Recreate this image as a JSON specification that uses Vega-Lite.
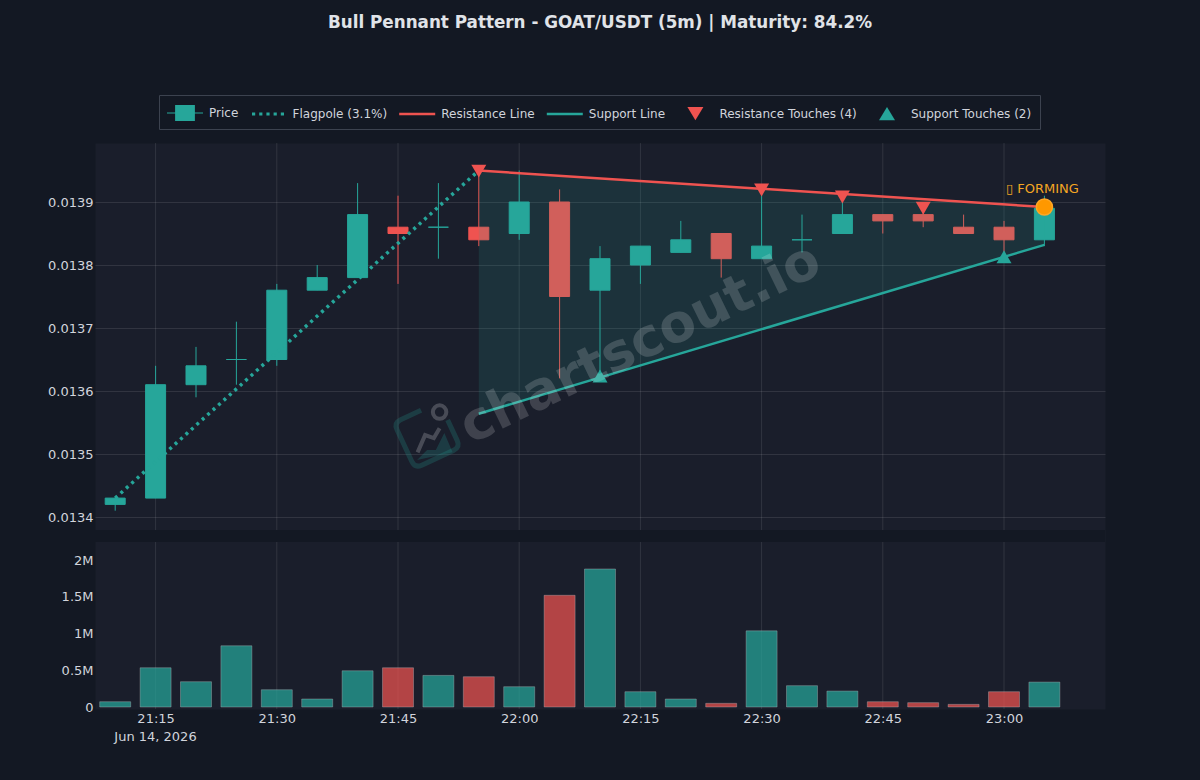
{
  "$schema": "https://vega.github.io/schema/vega-lite/v6.json",
  "background": "#131823",
  "autosize": {"type": "fit", "contains": "padding"},
  "width": 1200,
  "height": 780,
  "padding": {"left": 47, "top": 14, "right": 95, "bottom": 37},
  "title": {
    "text": "Bull Pennant Pattern - GOAT/USDT (5m) | Maturity: 84.2%",
    "font": "DejaVu Sans",
    "fontSize": 16.8,
    "fontWeight": "bold",
    "color": "#e0e3e8",
    "anchor": "middle",
    "offset": 111
  },
  "datasets": {
    "candles": [
      {"time": "2026-06-14T21:10:00", "open": 0.01342, "high": 0.01343, "low": 0.01341, "close": 0.01343, "volume": 72000, "dir": "up"},
      {"time": "2026-06-14T21:15:00", "open": 0.01343, "high": 0.01364, "low": 0.01343, "close": 0.01361, "volume": 534000, "dir": "up"},
      {"time": "2026-06-14T21:20:00", "open": 0.01361, "high": 0.01367, "low": 0.01359, "close": 0.01364, "volume": 344000, "dir": "up"},
      {"time": "2026-06-14T21:25:00", "open": 0.01365, "high": 0.01371, "low": 0.01361, "close": 0.01365, "volume": 833000, "dir": "up"},
      {"time": "2026-06-14T21:30:00", "open": 0.01365, "high": 0.01377, "low": 0.01364, "close": 0.01376, "volume": 235000, "dir": "up"},
      {"time": "2026-06-14T21:35:00", "open": 0.01376, "high": 0.0138, "low": 0.01376, "close": 0.01378, "volume": 109000, "dir": "up"},
      {"time": "2026-06-14T21:40:00", "open": 0.01378, "high": 0.01393, "low": 0.01378, "close": 0.01388, "volume": 493000, "dir": "up"},
      {"time": "2026-06-14T21:45:00", "open": 0.01386, "high": 0.01391, "low": 0.01377, "close": 0.01385, "volume": 534000, "dir": "down"},
      {"time": "2026-06-14T21:50:00", "open": 0.01386, "high": 0.01393, "low": 0.01381, "close": 0.01386, "volume": 430000, "dir": "up"},
      {"time": "2026-06-14T21:55:00", "open": 0.01386, "high": 0.01395, "low": 0.01383, "close": 0.01384, "volume": 412000, "dir": "down"},
      {"time": "2026-06-14T22:00:00", "open": 0.01385, "high": 0.01395, "low": 0.01384, "close": 0.0139, "volume": 276000, "dir": "up"},
      {"time": "2026-06-14T22:05:00", "open": 0.0139, "high": 0.01392, "low": 0.01362, "close": 0.01375, "volume": 1520000, "dir": "down"},
      {"time": "2026-06-14T22:10:00", "open": 0.01376, "high": 0.01383, "low": 0.01362, "close": 0.01381, "volume": 1878000, "dir": "up"},
      {"time": "2026-06-14T22:15:00", "open": 0.0138, "high": 0.01383, "low": 0.01377, "close": 0.01383, "volume": 208000, "dir": "up"},
      {"time": "2026-06-14T22:20:00", "open": 0.01382, "high": 0.01387, "low": 0.01382, "close": 0.01384, "volume": 109000, "dir": "up"},
      {"time": "2026-06-14T22:25:00", "open": 0.01385, "high": 0.01385, "low": 0.01378, "close": 0.01381, "volume": 50000, "dir": "down"},
      {"time": "2026-06-14T22:30:00", "open": 0.01381, "high": 0.01392, "low": 0.01381, "close": 0.01383, "volume": 1036000, "dir": "up"},
      {"time": "2026-06-14T22:35:00", "open": 0.01384, "high": 0.01388, "low": 0.01382, "close": 0.01384, "volume": 290000, "dir": "up"},
      {"time": "2026-06-14T22:40:00", "open": 0.01385, "high": 0.01391, "low": 0.01385, "close": 0.01388, "volume": 217000, "dir": "up"},
      {"time": "2026-06-14T22:45:00", "open": 0.01388, "high": 0.01388, "low": 0.01385, "close": 0.01387, "volume": 72000, "dir": "down"},
      {"time": "2026-06-14T22:50:00", "open": 0.01388, "high": 0.0139, "low": 0.01386, "close": 0.01387, "volume": 59000, "dir": "down"},
      {"time": "2026-06-14T22:55:00", "open": 0.01386, "high": 0.01388, "low": 0.01385, "close": 0.01385, "volume": 36000, "dir": "down"},
      {"time": "2026-06-14T23:00:00", "open": 0.01386, "high": 0.01387, "low": 0.01382, "close": 0.01384, "volume": 208000, "dir": "down"},
      {"time": "2026-06-14T23:05:00", "open": 0.01384, "high": 0.01391, "low": 0.01383, "close": 0.01389, "volume": 339000, "dir": "up"}
    ],
    "gridTimes": [
      {"time": "2026-06-14T21:15:00"},
      {"time": "2026-06-14T21:30:00"},
      {"time": "2026-06-14T21:45:00"},
      {"time": "2026-06-14T22:00:00"},
      {"time": "2026-06-14T22:15:00"},
      {"time": "2026-06-14T22:30:00"},
      {"time": "2026-06-14T22:45:00"},
      {"time": "2026-06-14T23:00:00"}
    ],
    "flagpole": [
      {"time": "2026-06-14T21:10:00", "price": 0.01343},
      {"time": "2026-06-14T21:55:00", "price": 0.01395}
    ],
    "pennant": [
      {"time": "2026-06-14T21:55:00", "resistance": 0.01395, "support": 0.013564},
      {"time": "2026-06-14T23:05:00", "resistance": 0.013892, "support": 0.013832}
    ],
    "resistanceTouches": [
      {"time": "2026-06-14T21:55:00", "price": 0.013949},
      {"time": "2026-06-14T22:30:00", "price": 0.013919},
      {"time": "2026-06-14T22:40:00", "price": 0.013908},
      {"time": "2026-06-14T22:50:00", "price": 0.01389}
    ],
    "supportTouches": [
      {"time": "2026-06-14T22:10:00", "price": 0.013624},
      {"time": "2026-06-14T23:00:00", "price": 0.013813}
    ],
    "breakout": [
      {"time": "2026-06-14T23:05:00", "price": 0.013892}
    ],
    "forming": [
      {"time": "2026-06-14T23:05:00", "price": 0.01392, "label": "▯ FORMING"}
    ],
    "watermark": [
      {"time": "2026-06-14T22:15:00", "price": 0.013675, "label": "chartscout.io"}
    ],
    "logo": [
      {"time": "2026-06-14T21:48:36", "price": 0.01353}
    ],
    "legendItems": [
      {"series": "Price"},
      {"series": "Flagpole (3.1%)"},
      {"series": "Resistance Line"},
      {"series": "Support Line"},
      {"series": "Resistance Touches (4)"},
      {"series": "Support Touches (2)"}
    ],
    "panelGap": [
      {"time": "2026-06-14T21:07:30", "end": "2026-06-14T23:12:30", "top": 2408000, "bottom": 2245000}
    ]
  },
  "config": {
    "font": "DejaVu Sans",
    "view": {"fill": "#1a1e2b", "stroke": "transparent"},
    "axis": {
      "domain": false,
      "ticks": false,
      "grid": true,
      "gridColor": "#ffffff",
      "gridOpacity": 0.1,
      "gridWidth": 1,
      "labelColor": "#d1d4dc",
      "labelFont": "DejaVu Sans",
      "labelFontSize": 13,
      "labelPadding": 2
    }
  },
  "encoding": {
    "x": {
      "field": "time",
      "type": "temporal",
      "scale": {
        "nice": false,
        "padding": 0,
        "domain": [
          {"year": 2026, "month": 6, "date": 14, "hours": 21, "minutes": 7, "seconds": 30},
          {"year": 2026, "month": 6, "date": 14, "hours": 23, "minutes": 12, "seconds": 30}
        ]
      },
      "axis": {
        "title": "Jun 14, 2026",
        "titleFont": "DejaVu Sans",
        "titleFontSize": 13,
        "titleFontWeight": "normal",
        "titleColor": "#d1d4dc",
        "titleAlign": "center",
        "titleBaseline": "middle",
        "titleX": 60,
        "titleY": 27,
        "grid": false,
        "format": "%H:%M",
        "labelPadding": 3,
        "labelOverlap": false,
        "values": [
          {"year": 2026, "month": 6, "date": 14, "hours": 21, "minutes": 15},
          {"year": 2026, "month": 6, "date": 14, "hours": 21, "minutes": 30},
          {"year": 2026, "month": 6, "date": 14, "hours": 21, "minutes": 45},
          {"year": 2026, "month": 6, "date": 14, "hours": 22, "minutes": 0},
          {"year": 2026, "month": 6, "date": 14, "hours": 22, "minutes": 15},
          {"year": 2026, "month": 6, "date": 14, "hours": 22, "minutes": 30},
          {"year": 2026, "month": 6, "date": 14, "hours": 22, "minutes": 45},
          {"year": 2026, "month": 6, "date": 14, "hours": 23, "minutes": 0}
        ]
      }
    }
  },
  "layer": [
    {
      "layer": [
        {
          "data": {"name": "gridTimes"},
          "mark": {"type": "rule", "color": "#ffffff", "opacity": 0.1, "strokeWidth": 1},
          "encoding": {}
        },
        {
          "data": {"name": "candles"},
          "mark": {"type": "rule", "strokeWidth": 1},
          "encoding": {
            "y": {
              "field": "low",
              "type": "quantitative",
              "title": null,
              "scale": {"domain": [0.01337937, 0.01399365], "range": [387, 0], "nice": false, "zero": false},
              "axis": {"title": null, "format": ".4f", "values": [0.0134, 0.0135, 0.0136, 0.0137, 0.0138, 0.0139]}
            },
            "y2": {"field": "high"},
            "color": {"condition": {"test": "datum.dir === 'up'", "value": "#26a69a"}, "value": "#ef5350"}
          }
        },
        {
          "data": {"name": "candles"},
          "mark": {"type": "bar", "size": 20, "strokeWidth": 1},
          "encoding": {
            "y": {"field": "open", "type": "quantitative"},
            "y2": {"field": "close"},
            "fill": {"condition": {"test": "datum.dir === 'up'", "value": "#26a69a"}, "value": "#ef5350"},
            "stroke": {"condition": {"test": "datum.dir === 'up'", "value": "#26a69a"}, "value": "#ef5350"}
          }
        },
        {
          "data": {"name": "pennant"},
          "mark": {"type": "area", "color": "#26a69a", "opacity": 0.15},
          "encoding": {
            "y": {"field": "resistance", "type": "quantitative"},
            "y2": {"field": "support"}
          }
        },
        {
          "data": {"name": "flagpole"},
          "mark": {"type": "line", "color": "#26a69a", "strokeWidth": 3.5, "strokeDash": [3, 4.3]},
          "encoding": {"y": {"field": "price", "type": "quantitative"}}
        },
        {
          "data": {"name": "pennant"},
          "mark": {"type": "line", "color": "#ef5350", "strokeWidth": 2.5},
          "encoding": {"y": {"field": "resistance", "type": "quantitative"}}
        },
        {
          "data": {"name": "pennant"},
          "mark": {"type": "line", "color": "#26a69a", "strokeWidth": 2.5},
          "encoding": {"y": {"field": "support", "type": "quantitative"}}
        },
        {
          "data": {"name": "resistanceTouches"},
          "mark": {"type": "point", "shape": "triangle-down", "filled": true, "size": 225, "color": "#ef5350", "opacity": 1},
          "encoding": {"y": {"field": "price", "type": "quantitative"}}
        },
        {
          "data": {"name": "supportTouches"},
          "mark": {"type": "point", "shape": "triangle-up", "filled": true, "size": 225, "color": "#26a69a", "opacity": 1},
          "encoding": {"y": {"field": "price", "type": "quantitative"}}
        },
        {
          "data": {"name": "breakout"},
          "mark": {"type": "point", "shape": "circle", "filled": true, "size": 260, "fill": "#ff9800", "stroke": "#ffa726", "strokeWidth": 1.5, "opacity": 1},
          "encoding": {"y": {"field": "price", "type": "quantitative"}}
        },
        {
          "data": {"name": "forming"},
          "mark": {"type": "text", "color": "#f5a623", "fontSize": 13, "align": "center", "baseline": "middle", "dx": -2},
          "encoding": {
            "y": {"field": "price", "type": "quantitative"},
            "text": {"field": "label"}
          }
        },
        {
          "data": {"name": "watermark"},
          "mark": {"type": "text", "color": "#ffffff", "opacity": 0.16, "fontSize": 53, "fontWeight": "bold", "angle": 334, "align": "center", "baseline": "middle"},
          "encoding": {
            "y": {"field": "price", "type": "quantitative"},
            "text": {"field": "label"}
          }
        },
        {
          "data": {"name": "logo"},
          "mark": {
            "type": "point",
            "shape": "M0.2,-1H-0.7Q-1,-1,-1,-0.7V0.7Q-1,1,-0.7,1H0.7Q1,1,1,0.7V-0.2",
            "filled": false,
            "size": 2500,
            "angle": 335,
            "color": "#26a69a",
            "strokeWidth": 5,
            "opacity": 0.22
          },
          "encoding": {"y": {"field": "price", "type": "quantitative"}}
        },
        {
          "data": {"name": "logo"},
          "mark": {
            "type": "point",
            "shape": "M-0.4,1L0,0.6L0.35,0.6L0.69,-0.08L1.02,0.69Z",
            "filled": true,
            "size": 2500,
            "color": "#26a69a",
            "opacity": 0.22
          },
          "encoding": {"y": {"field": "price", "type": "quantitative"}}
        },
        {
          "data": {"name": "logo"},
          "mark": {
            "type": "point",
            "shape": "M-0.38,0.69L-0.08,0L0.27,0.12L0.5,-0.27M0.77,-0.92A0.27,0.27,0,1,1,0.23,-0.92A0.27,0.27,0,1,1,0.77,-0.92",
            "filled": false,
            "size": 2500,
            "color": "#ffffff",
            "strokeWidth": 4,
            "opacity": 0.2
          },
          "encoding": {"y": {"field": "price", "type": "quantitative"}}
        },
        {
          "data": {"name": "legendItems"},
          "mark": {"type": "point", "filled": true, "opacity": 1},
          "encoding": {
            "color": {
              "field": "series",
              "type": "nominal",
              "scale": {
                "domain": ["Price", "Flagpole (3.1%)", "Resistance Line", "Support Line", "Resistance Touches (4)", "Support Touches (2)"],
                "range": ["#26a69a", "#26a69a", "#ef5350", "#26a69a", "#ef5350", "#26a69a"]
              },
              "legend": {
                "title": null,
                "orient": "none",
                "legendX": 64,
                "legendY": -48,
                "columns": 6,
                "columnPadding": 11.6,
                "padding": 8,
                "symbolSize": 400,
                "symbolStrokeWidth": 0,
                "symbolOpacity": 1,
                "labelOffset": 22,
                "labelColor": "#d1d4dc",
                "labelFont": "DejaVu Sans",
                "labelFontSize": 12,
                "fillColor": "#131823",
                "strokeColor": "#3c424f",
                "encoding": {
                  "symbols": {
                    "fill": {"signal": "datum.value === 'Price' ? {gradient: 'linear', x1: 0, y1: 0, x2: 1, y2: 1, stops: [{offset: 0, color: '#26a69a'}, {offset: 0.5, color: '#26a69a'}, {offset: 0.5, color: '#ef5350'}, {offset: 1, color: '#ef5350'}]} : (indexof(datum.value, 'Resistance') >= 0 ? '#ef5350' : '#26a69a')"}
                  }
                }
              }
            },
            "shape": {
              "field": "series",
              "type": "nominal",
              "scale": {
                "domain": ["Price", "Flagpole (3.1%)", "Resistance Line", "Support Line", "Resistance Touches (4)", "Support Touches (2)"],
                "range": [
                  "M-1,-0.05H-0.19V-0.8H1.79V-0.05H2.6V0.05H1.79V0.8H-0.19V0.05H-1Z",
                  "M-0.86,-0.16h0.32v0.32h-0.32ZM-0.14,-0.16h0.32v0.32h-0.32ZM0.58,-0.16h0.32v0.32h-0.32ZM1.3,-0.16h0.32v0.32h-0.32ZM2.02,-0.16h0.32v0.32h-0.32Z",
                  "M-1,-0.125H2.6V0.125H-1Z",
                  "M-1,-0.125H2.6V0.125H-1Z",
                  "M0,-0.67H1.6L0.8,0.67Z",
                  "M0,0.67H1.6L0.8,-0.67Z"
                ]
              }
            }
          }
        }
      ]
    },
    {
      "layer": [
        {
          "data": {"name": "panelGap"},
          "mark": {"type": "rect", "color": "#131823"},
          "encoding": {
            "x2": {"field": "end"},
            "y": {
              "field": "top",
              "type": "quantitative",
              "title": null,
              "scale": {"domain": [0, 2245000], "range": [564, 399], "nice": false, "zero": false},
              "axis": {
                "title": null,
                "orient": "left",
                "values": [0, 500000, 1000000, 1500000, 2000000],
                "labelExpr": "datum.value === 0 ? '0' : datum.value / 1000000 + 'M'"
              }
            },
            "y2": {"field": "bottom"}
          }
        },
        {
          "data": {"name": "candles"},
          "mark": {"type": "bar", "size": 31, "opacity": 0.72, "stroke": "#ffffff", "strokeOpacity": 0.35, "strokeWidth": 1},
          "encoding": {
            "y": {"field": "volume", "type": "quantitative"},
            "fill": {"condition": {"test": "datum.dir === 'up'", "value": "#26a69a"}, "value": "#ef5350"}
          }
        }
      ]
    }
  ],
  "resolve": {"scale": {"y": "independent"}, "axis": {"y": "independent"}}
}
